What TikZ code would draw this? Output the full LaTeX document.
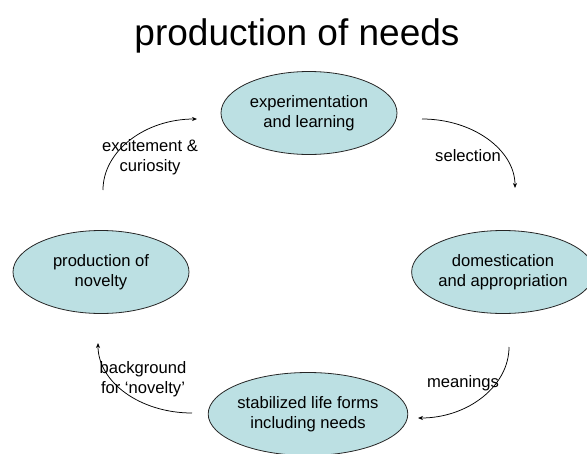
\documentclass[tikz,border=0pt]{standalone}
\usepackage{fontspec}
\setmainfont{Liberation Sans}
\usetikzlibrary{shapes.geometric,arrows.meta}
\definecolor{bubble}{RGB}{188,224,227}
\tikzset{
  bubble/.style={ellipse, draw=black!85, line width=0.8pt, fill=bubble,
    minimum width=176pt, minimum height=83pt, inner sep=0pt, align=center,
    font=\fontsize{16.6}{20}\selectfont},
  lbl/.style={align=center, inner sep=0pt, font=\fontsize{16.6}{20}\selectfont},
  flow/.style={line width=0.75pt, -{Stealth[length=5pt,width=4pt]}}
}
\begin{document}
\begin{tikzpicture}[x=1pt,y=-1pt]
\useasboundingbox (0,0) rectangle (587,453);
\node[anchor=base, inner sep=0pt, font=\fontsize{37}{40}\selectfont] (title) at (297,45) {production of needs};

\node[bubble] (exp) at (309,113) {experimentation\\and learning};
\node[bubble] (nov) at (101,272) {production of\\novelty};
\node[bubble, minimum width=166pt] (dom) at (503,272) {domestication\\and appropriation};
\node[bubble] (stab) at (308,414) {stabilized life forms\\including needs};

\coordinate (a1s) at (103,190);
\coordinate (a1e) at (197,119);
\coordinate (a2s) at (422,119);
\coordinate (a2e) at (515,188);
\coordinate (a3s) at (509,347);
\coordinate (a3e) at (418,418);
\coordinate (a4s) at (192,413);
\coordinate (a4e) at (98,343);

\draw[flow] (a1s) .. controls +(0,-39) and +(-52,0) .. (a1e);
\draw[flow] (a2s) .. controls +(51,0) and +(0,-38) .. (a2e);
\draw[flow] (a3s) .. controls +(0,39) and +(50,0) .. (a3e);
\draw[flow] (a4s) .. controls +(-52,0) and +(0,39) .. (a4e);

\node[lbl] (l1) at (150,157) {excitement \&\\curiosity};
\node[lbl] (l2) at (468,156) {selection};
\node[lbl] (l3) at (463,383) {meanings};
\node[lbl] (l4) at (143,379) {background\\for ‘novelty’};
\end{tikzpicture}
\end{document}
